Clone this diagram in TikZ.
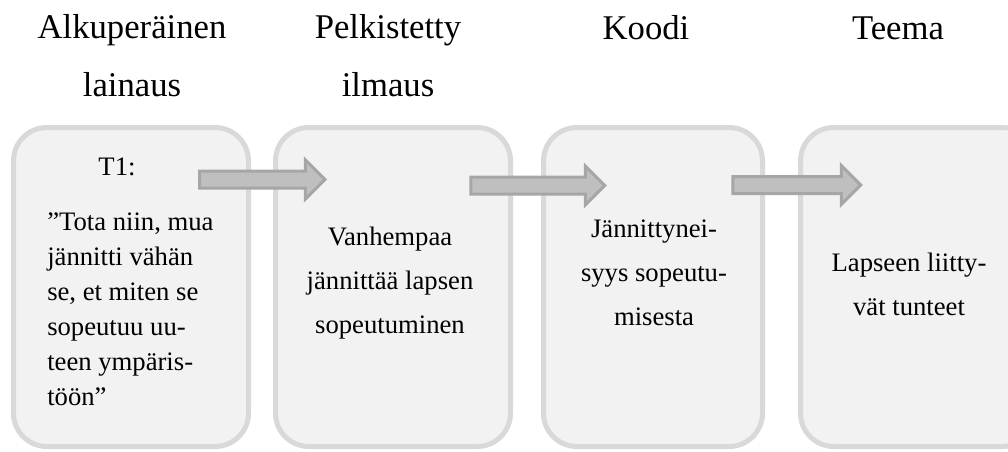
\documentclass[tikz,border=0pt]{standalone}
\usepackage{fontspec}
\setmainfont{Liberation Serif}
\usepackage{xcolor}
\definecolor{boxfill}{RGB}{242,242,242}
\definecolor{boxline}{RGB}{217,217,217}
\definecolor{arrowfill}{RGB}{191,191,191}
\definecolor{arrowline}{RGB}{166,166,166}
\usetikzlibrary{positioning}
\usetikzlibrary{shapes.arrows}
\newcommand{\widthbox}{176.25pt}
\newcommand{\widthnarrowbox}{164.25pt}
\newcommand{\heightbox}{239.25pt}
\tikzset{
    card/.style={draw=boxline, fill=boxfill, line width=3.75pt, rounded corners=25pt, minimum width=\widthbox, minimum height=\heightbox, inner sep=0pt},
    heading/.style={anchor=north, align=center, inner sep=0pt, font=\fontsize{26}{44}\selectfont},
    quote/.style={anchor=north, inner sep=0pt, font=\fontsize{20}{26.25}\selectfont},
    body/.style={anchor=north, align=center, inner sep=0pt, font=\fontsize{20}{33}\selectfont},
    flow/.style={single arrow, draw=arrowline, fill=arrowfill, line width=2.25pt, inner sep=5.25pt, text height=0pt, text depth=0pt, single arrow head extend=8.25pt}
}

\begin{document}
\begin{tikzpicture}[x=0.75pt, y=-0.75pt]
                \useasboundingbox (0,0) rectangle (1008,451);
                \clip (0,0) rectangle (1008,451);

                \node[card] (orig) at (131,287) {};
                \node[card, right=16.5pt of orig] (simple) {};
                \node[card, right=21pt of simple, minimum width=\widthnarrowbox] (code) {};
                \node[card, right=24.75pt of code] (theme) {};

                \node[flow, minimum height=94pt] (arr1) at (258,179.5) {};
                \node[flow, minimum height=100.5pt] (arr2) at (533.5,185.5) {};
                \node[flow, minimum height=96pt] (arr3) at (792.5,185) {};

                \node[heading] (orig-title) at (132,14) {Alkuperäinen\\lainaus};
                \node[heading] (simple-title) at (388,14) {Pelkistetty\\ilmaus};
                \node[heading, anchor=base] (code-title) at (646,39) {Koodi};
                \node[heading, anchor=base] (theme-title) at (898,39) {Teema};

                \node[quote] (orig-id) at (117,158) {T1:};
                \node[quote, anchor=north west, align=left] (orig-text) at (47,212)
                  {”Tota niin, mua\\jännitti vähän\\se, et miten se\\sopeutuu uu-\\teen ympäris-\\töön”};
                \node[body] (simple-text) at (390,227) {Vanhempaa\\jännittää lapsen\\sopeutuminen};
                \node[body] (code-text) at (654,220) {Jännittynei-\\syys sopeutu-\\misesta};
                \node[body] (theme-text) at (909,253) {Lapseen liitty-\\vät tunteet};
\end{tikzpicture}
\end{document}
